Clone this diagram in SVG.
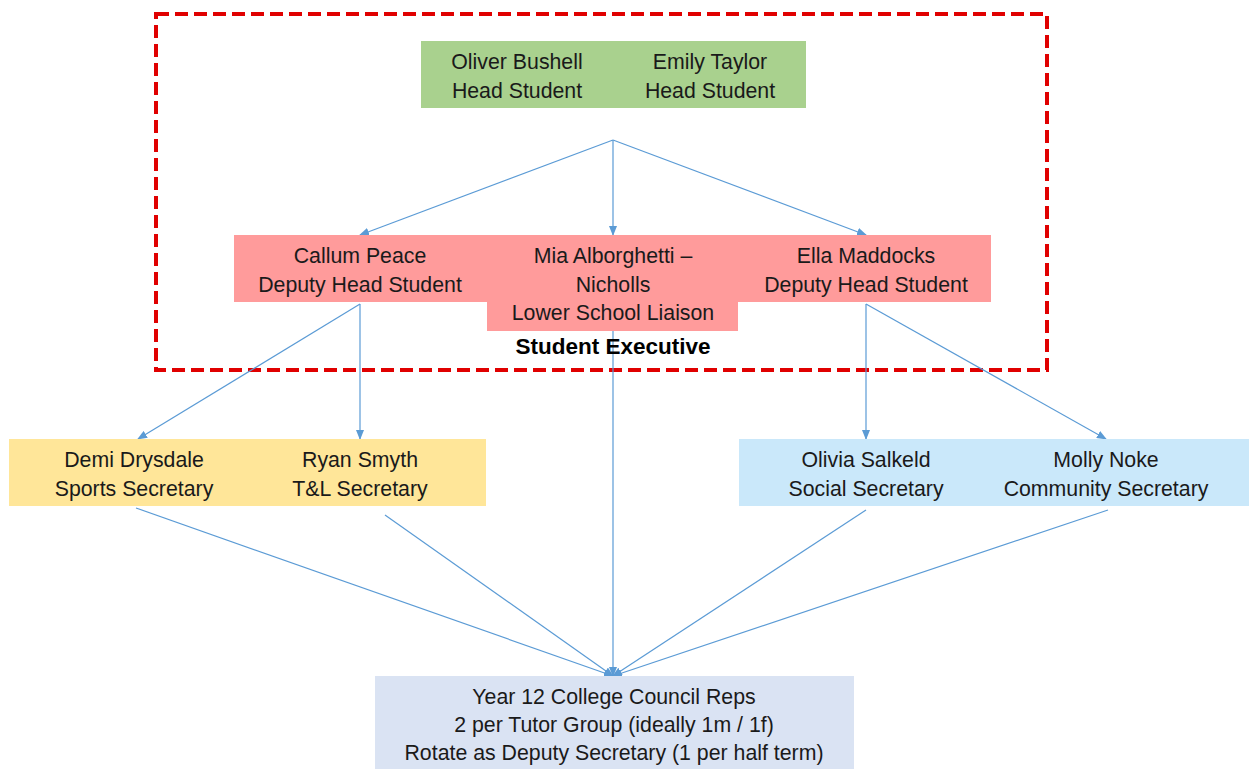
<svg xmlns="http://www.w3.org/2000/svg" width="1250" height="769" viewBox="0 0 1250 769">
<style>
text{font-family:"Liberation Sans",Arial,sans-serif;font-size:21.3px;fill:#1a1a1a;text-anchor:middle}
.b{font-weight:bold;font-size:22.5px;fill:#000}
.c{stroke:#5b9bd5;stroke-width:1.2;fill:none}
</style>
<defs>
<marker id="ah" markerWidth="10" markerHeight="8" refX="9" refY="4" orient="auto" markerUnits="userSpaceOnUse">
<path d="M0,0 L10,4 L0,8 z" fill="#5b9bd5"/>
</marker>
</defs>
<rect width="1250" height="769" fill="#fff"/>
<rect id="exec-frame" x="156" y="14" width="891" height="356" fill="none" stroke="#e00000" stroke-width="4" stroke-dasharray="13,6"/>
<g id="connectors">
<path class="c" marker-end="url(#ah)" d="M613,140 L360,235"/>
<path class="c" marker-end="url(#ah)" d="M613,140 L613,235"/>
<path class="c" marker-end="url(#ah)" d="M613,140 L866,235"/>
<path class="c" marker-end="url(#ah)" d="M360,304 L138,439"/>
<path class="c" marker-end="url(#ah)" d="M360,304 L360,439"/>
<path class="c" marker-end="url(#ah)" d="M866,304 L866,439"/>
<path class="c" marker-end="url(#ah)" d="M866,304 L1106,439"/>
<path class="c" marker-end="url(#ah)" d="M613,331 L613,676"/>
<path class="c" marker-end="url(#ah)" d="M136,508 L613,676"/>
<path class="c" marker-end="url(#ah)" d="M385,515 L613,676"/>
<path class="c" marker-end="url(#ah)" d="M866,510 L613,676"/>
<path class="c" marker-end="url(#ah)" d="M1108,510 L613,676"/>
</g>
<g id="head-students">
<rect x="421" y="41" width="385" height="67" fill="#a9d18e"/>
<text x="517" y="69">Oliver Bushell</text>
<text x="517" y="98">Head Student</text>
<text x="710" y="69">Emily Taylor</text>
<text x="710" y="98">Head Student</text>
</g>
<g id="deputies">
<rect x="234" y="235" width="757" height="67" fill="#ff9b9b"/>
<rect x="487" y="235" width="251" height="96" fill="#ff9b9b"/>
<text x="360" y="263">Callum Peace</text>
<text x="360" y="292">Deputy Head Student</text>
<text x="613" y="263">Mia Alborghetti –</text>
<text x="613" y="292">Nicholls</text>
<text x="613" y="320">Lower School Liaison</text>
<text x="866" y="263">Ella Maddocks</text>
<text x="866" y="292">Deputy Head Student</text>
</g>
<g id="exec-label">
<text class="b" x="613" y="354">Student Executive</text>
</g>
<g id="secretaries-left">
<rect x="9" y="439" width="477" height="67" fill="#ffe699"/>
<text x="134" y="467">Demi Drysdale</text>
<text x="134" y="496">Sports Secretary</text>
<text x="360" y="467">Ryan Smyth</text>
<text x="360" y="496">T&amp;L Secretary</text>
</g>
<g id="secretaries-right">
<rect x="739" y="439" width="510" height="67" fill="#cae8fa"/>
<text x="866" y="467">Olivia Salkeld</text>
<text x="866" y="496">Social Secretary</text>
<text x="1106" y="467">Molly Noke</text>
<text x="1106" y="496">Community Secretary</text>
</g>
<g id="council-reps">
<rect x="375" y="676" width="479" height="93" fill="#dae3f3"/>
<text x="614" y="704">Year 12 College Council Reps</text>
<text x="614" y="732">2 per Tutor Group (ideally 1m / 1f)</text>
<text x="614" y="760">Rotate as Deputy Secretary (1 per half term)</text>
</g>
</svg>
